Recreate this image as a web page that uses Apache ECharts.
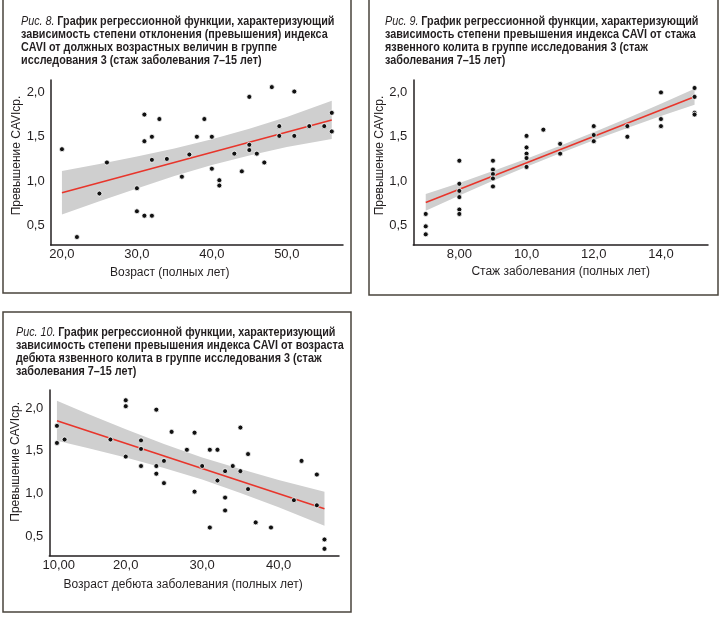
<!DOCTYPE html>
<html>
<head>
<meta charset="utf-8">
<script src="https://cdn.jsdelivr.net/npm/echarts@6/dist/echarts.min.js"></script>
<style>
  html, body { margin: 0; padding: 0; background: #fff; }
  #chart { width: 720px; height: 617px; }
</style>
</head>
<body>
<div id="chart"></div>
<script>
// Рис. 8 — возраст
const ageX = [20, 22, 25, 26, 30, 30, 31, 31, 31, 32, 32, 32, 33, 34, 36, 37, 38, 39, 40, 40,
  41, 41, 43, 44, 45, 45, 45, 46, 47, 48, 49, 49, 51, 51, 53, 55, 56, 56];
const ageY = [1.36, 0.37, 0.86, 1.21, 0.92, 0.66, 1.75, 1.45, 0.61, 1.50, 1.24, 0.61, 1.70, 1.25, 1.05, 1.30, 1.50, 1.70, 1.50, 1.14,
  1.01, 0.95, 1.31, 1.11, 1.95, 1.41, 1.35, 1.31, 1.21, 2.06, 1.62, 1.51, 2.01, 1.51, 1.62, 1.62, 1.77, 1.56];
const ageFitX = [20, 56];
const ageFitY = [0.87, 1.69];
const ageBandX = [20, 25, 30, 35, 40, 45, 50, 56];
const ageBandHi = [1.115, 1.194, 1.278, 1.367, 1.471, 1.59, 1.724, 1.905];
const ageBandLo = [0.625, 0.774, 0.918, 1.057, 1.181, 1.29, 1.384, 1.475];

// Рис. 9 — стаж
const durX = [7, 7, 7, 8, 8, 8, 8, 8, 8, 9, 9, 9, 9, 9, 10, 10, 10, 10, 10, 10.5,
  11, 11, 12, 12, 12, 13, 13, 14, 14, 14, 15, 15, 15, 15];
const durY = [0.63, 0.49, 0.40, 1.23, 0.97, 0.89, 0.82, 0.68, 0.63, 1.23, 1.13, 1.08, 1.03, 0.94, 1.51, 1.38, 1.31, 1.26, 1.16, 1.58,
  1.42, 1.31, 1.62, 1.52, 1.45, 1.62, 1.50, 2.00, 1.70, 1.62, 2.05, 1.95, 1.77, 1.75];
const durFitX = [7, 15];
const durFitY = [0.76, 1.95];
const durBandX = [7, 8, 9, 10, 11, 12, 13, 14, 15];
const durBandHi = [0.855, 0.979, 1.113, 1.252, 1.398, 1.55, 1.709, 1.873, 2.042];
const durBandLo = [0.665, 0.839, 1.003, 1.162, 1.314, 1.46, 1.599, 1.733, 1.862];

// Рис. 10 — возраст дебюта
const onsetX = [11, 11, 12, 18, 20, 20, 20, 22, 22, 22, 24, 24, 24, 25, 25, 26, 28, 29, 29, 30,
  31, 31, 32, 32, 33, 33, 33, 34, 35, 35, 36, 36, 37, 39, 42, 43, 45, 45, 46, 46];
const onsetY = [1.79, 1.59, 1.63, 1.63, 2.09, 2.02, 1.43, 1.62, 1.52, 1.32, 1.98, 1.32, 1.23, 1.38, 1.12, 1.72, 1.51, 1.71, 1.02, 1.32,
  1.51, 0.60, 1.51, 1.15, 1.26, 0.95, 0.80, 1.32, 1.77, 1.26, 1.46, 1.05, 0.66, 0.60, 0.92, 1.38, 1.22, 0.86, 0.46, 0.35];
const onsetFitX = [11, 46];
const onsetFitY = [1.85, 0.82];
const onsetBandX = [11, 15, 20, 25, 30, 35, 40, 46];
const onsetBandHi = [2.085, 1.932, 1.75, 1.578, 1.421, 1.284, 1.157, 1.02];
const onsetBandLo = [1.615, 1.532, 1.42, 1.298, 1.161, 1.004, 0.837, 0.62];

// подписи осей
const yTicks = [0.5, 1, 1.5, 2];
const yTickLabels = ['0,5', '1,0', '1,5', '2,0'];
const ageTicks = [20, 30, 40, 50];
const ageTickLabels = ['20,0', '30,0', '40,0', '50,0'];
const durTicks = [8, 10, 12, 14];
const durTickLabels = ['8,00', '10,0', '12,0', '14,0'];
const onsetTicks = [10, 20, 30, 40];
const onsetTickLabels = ['{first|10,00}', '20,0', '30,0', '40,0'];

const yName = 'Превышение CAVIср.';
const title8 = ['Рис. 8.', 'График регрессионной функции, характеризующий',
  'зависимость степени отклонения (превышения) индекса',
  'CAVI от должных возрастных величин в группе',
  'исследования 3 (стаж заболевания 7–15 лет)'];
const title9 = ['Рис. 9.', 'График регрессионной функции, характеризующий',
  'зависимость степени превышения индекса CAVI от стажа',
  'язвенного колита в группе исследования 3 (стаж',
  'заболевания 7–15 лет)'];
const title10 = ['Рис. 10.', 'График регрессионной функции, характеризующий',
  'зависимость степени превышения индекса CAVI от возраста',
  'дебюта язвенного колита в группе исследования 3 (стаж',
  'заболевания 7–15 лет)'];

const ink = '#231f20';
const font = 'Liberation Sans, Arial, sans-serif';

function zip(a, b) {
  return a.map((v, i) => [v, b[i]]);
}

function xAxis(idx, min, max, ticks, labels, name, gap, shift) {
  return {
    type: 'value', gridIndex: idx, min: min, max: max,
    axisLine: { show: true, onZero: false, lineStyle: { color: ink, width: 1.5 } },
    axisTick: { show: false },
    splitLine: { show: false },
    axisLabel: {
      customValues: ticks, color: ink, fontSize: 13, fontFamily: font, margin: 3,
      formatter: v => labels[ticks.indexOf(v)],
      rich: { first: { fontSize: 13, fontFamily: font, color: ink, padding: [0, 0, 0, 19] } }
    },
    name: name, nameLocation: 'middle', nameGap: gap,
    nameTextStyle: { color: ink, fontSize: 12, fontFamily: font, padding: [0, shift, 0, 0] }
  };
}

function yAxis(idx, min, max, gap, shift) {
  return {
    type: 'value', gridIndex: idx, min: min, max: max,
    axisLine: { show: true, onZero: false, lineStyle: { color: ink, width: 1.5 } },
    axisTick: { show: false },
    splitLine: { show: false },
    axisLabel: {
      customValues: yTicks, color: ink, fontSize: 13, fontFamily: font, margin: 6,
      formatter: v => yTickLabels[yTicks.indexOf(v)]
    },
    name: yName, nameLocation: 'middle', nameGap: gap,
    nameTextStyle: { color: ink, fontSize: 12, fontFamily: font, padding: [0, 0, 0, shift] }
  };
}

function band(idx, xs, hi, lo) {
  return {
    type: 'custom', xAxisIndex: idx, yAxisIndex: idx, silent: true, z: 1,
    data: [[xs[0], hi[0]]],
    renderItem: (params, api) => {
      const top = xs.map((x, i) => api.coord([x, hi[i]]));
      const bot = xs.map((x, i) => api.coord([x, lo[i]])).reverse();
      return { type: 'polygon', shape: { points: top.concat(bot) }, style: { fill: '#cfcfcf' } };
    }
  };
}

function fit(idx, xs, ys) {
  return {
    type: 'line', xAxisIndex: idx, yAxisIndex: idx, data: zip(xs, ys),
    symbol: 'none', silent: true, z: 3,
    lineStyle: { color: '#e8352b', width: 1.6 }
  };
}

function dots(idx, xs, ys) {
  return {
    type: 'scatter', xAxisIndex: idx, yAxisIndex: idx, data: zip(xs, ys),
    symbolSize: 5, z: 4,
    itemStyle: { color: '#111', borderColor: '#fff', borderWidth: 0.8, opacity: 1 }
  };
}

// заголовок: шрифт сжат по ширине, как узкий гротеск в оригинале
function titleText(lines, x, y) {
  const text = '{i|' + lines[0] + '} {b|' + lines[1] + '}\n' +
    lines.slice(2).map(l => '{b|' + l + '}').join('\n');
  return {
    type: 'text', x: x, y: y, scaleX: 0.83,
    style: {
      text: text, fill: ink,
      rich: {
        i: { fontFamily: font, fontStyle: 'italic', fontSize: 13, lineHeight: 13, fill: ink },
        b: { fontFamily: font, fontWeight: 'bold', fontSize: 13, lineHeight: 13, fill: ink }
      }
    }
  };
}

function frame(x, y, w, h) {
  return {
    type: 'rect', shape: { x: x, y: y, width: w, height: h },
    style: { fill: 'none', stroke: '#4a443d', lineWidth: 1.5 }, silent: true
  };
}

const chart = echarts.init(document.getElementById('chart'));
chart.setOption({
  backgroundColor: '#fff',
  animation: false,
  grid: [
    { left: 50.7, width: 292.3, top: 80, height: 165 },
    { left: 413.3, width: 294.7, top: 80, height: 165 },
    { left: 49.3, width: 289.7, top: 390, height: 165.7 }
  ],
  xAxis: [
    xAxis(0, 18.5, 57.5, ageTicks, ageTickLabels, 'Возраст (полных лет)', 22, 54),
    xAxis(1, 6.63, 15.4, durTicks, durTickLabels, 'Стаж заболевания (полных лет)', 21, 0),
    xAxis(2, 10, 47.9, onsetTicks, onsetTickLabels, 'Возраст дебюта заболевания (полных лет)', 23, 22)
  ],
  yAxis: [
    yAxis(0, 0.28, 2.14, 27, 14),
    yAxis(1, 0.28, 2.14, 26, 14),
    yAxis(2, 0.27, 2.21, 28, 22)
  ],
  graphic: [
    frame(3, -2, 348, 295),
    frame(369, -2, 349, 297),
    frame(3, 312, 348, 300),
    titleText(title8, 21, 14.5),
    titleText(title9, 385, 14.5),
    titleText(title10, 16, 326)
  ],
  series: [
    band(0, ageBandX, ageBandHi, ageBandLo),
    fit(0, ageFitX, ageFitY),
    dots(0, ageX, ageY),
    band(1, durBandX, durBandHi, durBandLo),
    fit(1, durFitX, durFitY),
    dots(1, durX, durY),
    band(2, onsetBandX, onsetBandHi, onsetBandLo),
    fit(2, onsetFitX, onsetFitY),
    dots(2, onsetX, onsetY)
  ]
});
</script>
</body>
</html>
